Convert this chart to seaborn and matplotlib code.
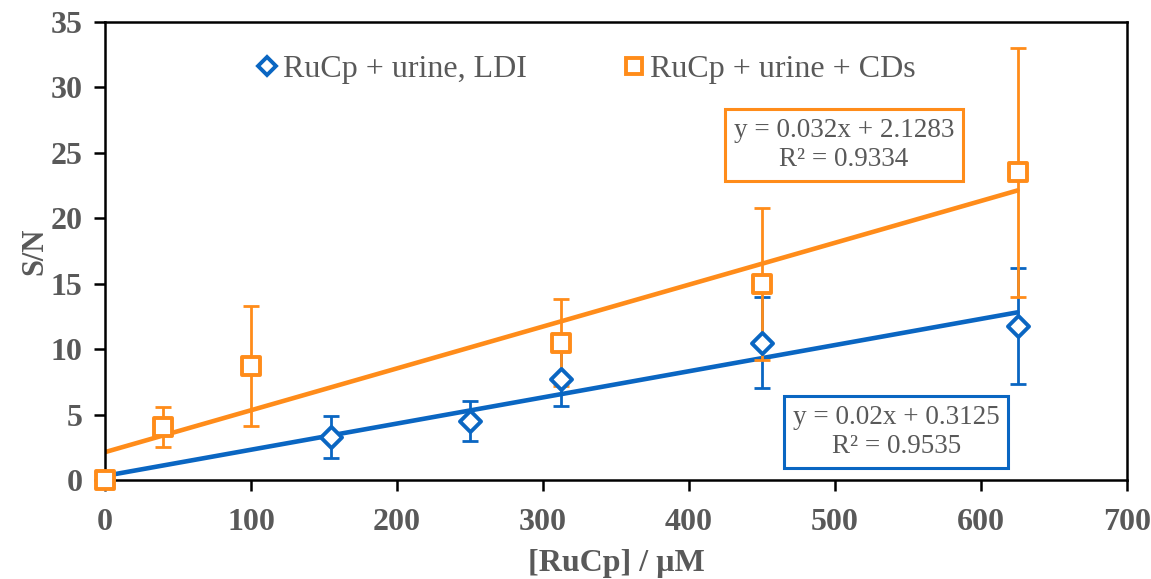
import numpy as np
import pandas as pd
import matplotlib
matplotlib.use("Agg")
import matplotlib.pyplot as plt
import seaborn as sns
from matplotlib.lines import Line2D

# ---- data ----
blue_x = [155, 250, 312.5, 450, 625]
blue_y = [3.3, 4.5, 7.75, 10.5, 11.75]
blue_err = [1.6, 1.5, 2.1, 3.5, 4.45]

orange_x = [0, 40, 100, 312.5, 450, 625]
orange_y = [0.0, 4.05, 8.7, 10.5, 15.0, 23.5]
orange_err = [0.0, 1.55, 4.6, 3.35, 5.8, 9.55]

blue_fit = (0.02, 0.3125, 0.9535)
orange_fit = (0.032, 2.1283, 0.9334)
fit_range = [0, 625]

series_names = ["RuCp + urine, LDI", "RuCp + urine + CDs"]
x_ticks = [0, 100, 200, 300, 400, 500, 600, 700]
y_ticks = [0, 5, 10, 15, 20, 25, 30, 35]

BLUE = "#0a66c2"
ORANGE = "#ff8c1a"
GRAY = "#595959"

sns.set_theme(style="white")
plt.rcParams["font.family"] = ["Liberation Serif", "DejaVu Serif"]

fig = plt.figure(figsize=(11.51, 5.79), dpi=100)
ax = fig.add_axes([0.0912, 0.171, 0.8880, 0.791])

# fit lines
fx = np.array(fit_range, dtype=float)
fit_df = pd.DataFrame({
    "x": np.concatenate([fx, fx]),
    "y": np.concatenate([blue_fit[0] * fx + blue_fit[1], orange_fit[0] * fx + orange_fit[1]]),
    "s": [series_names[0]] * 2 + [series_names[1]] * 2,
})
sns.lineplot(data=fit_df, x="x", y="y", hue="s", palette=[BLUE, ORANGE],
             linewidth=3.3, ax=ax, legend=False, zorder=2)

# error bars
ax.errorbar(blue_x, blue_y, yerr=blue_err, fmt="none", ecolor=BLUE,
            elinewidth=2.0, capsize=5.5, capthick=2.0, zorder=3)
ax.errorbar([x for x, e in zip(orange_x, orange_err) if e > 0],
            [y for y, e in zip(orange_y, orange_err) if e > 0],
            yerr=[e for e in orange_err if e > 0], fmt="none", ecolor=ORANGE,
            elinewidth=2.0, capsize=5.5, capthick=2.0, zorder=3)

# markers
sns.scatterplot(x=blue_x, y=blue_y, marker="D", s=115, facecolor="white",
                edgecolor=BLUE, linewidth=2.8, ax=ax, zorder=4)
sns.scatterplot(x=orange_x, y=orange_y, marker="s", s=185, facecolor="white",
                edgecolor=ORANGE, linewidth=2.8, ax=ax, zorder=5, clip_on=False)

ax.set_xlim(0, 700)
ax.set_ylim(0, 35)
ax.set_xticks(x_ticks)
ax.set_yticks(y_ticks)
ax.tick_params(axis="both", direction="out", length=8, width=1.8, color="black",
               labelsize=23, labelcolor=GRAY, bottom=True, left=True)
ax.tick_params(axis="x", pad=12)
ax.tick_params(axis="y", pad=8)
for lab in ax.get_xticklabels() + ax.get_yticklabels():
    lab.set_fontweight("bold")
for sp in ax.spines.values():
    sp.set_visible(True)
    sp.set_color("black")
    sp.set_linewidth(1.8)

ax.set_xlabel("[RuCp] / µM", fontsize=23, fontweight="bold", color=GRAY, labelpad=9)
ax.set_ylabel("S/N", fontsize=22, fontweight="bold", color=GRAY, labelpad=1)

# legend
handles = [
    Line2D([], [], marker="D", linestyle="none", markersize=9, markerfacecolor="white",
           markeredgecolor=BLUE, markeredgewidth=2.8),
    Line2D([], [], marker="s", linestyle="none", markersize=11, markerfacecolor="white",
           markeredgecolor=ORANGE, markeredgewidth=2.8),
]
leg = ax.legend(handles, series_names, loc="center", bbox_to_anchor=(0.470, 0.897),
                ncol=2, frameon=False, fontsize=23, handlelength=0.7,
                handletextpad=0.15, columnspacing=3.0)
for t in leg.get_texts():
    t.set_color(GRAY)

# equation boxes
ax.text(506, 25.6, f"y = {orange_fit[0]}x + {orange_fit[1]}\nR² = {orange_fit[2]}",
        ha="center", va="center", fontsize=19.5, color=GRAY, linespacing=1.2,
        bbox=dict(boxstyle="square,pad=0.32", facecolor="white", edgecolor=ORANGE, linewidth=2.2))
ax.text(542, 3.67, f"y = {blue_fit[0]}x + {blue_fit[1]}\nR² = {blue_fit[2]}",
        ha="center", va="center", fontsize=19.5, color=GRAY, linespacing=1.2,
        bbox=dict(boxstyle="square,pad=0.32", facecolor="white", edgecolor=BLUE, linewidth=2.2))

fig.savefig("out.png", dpi=100)
